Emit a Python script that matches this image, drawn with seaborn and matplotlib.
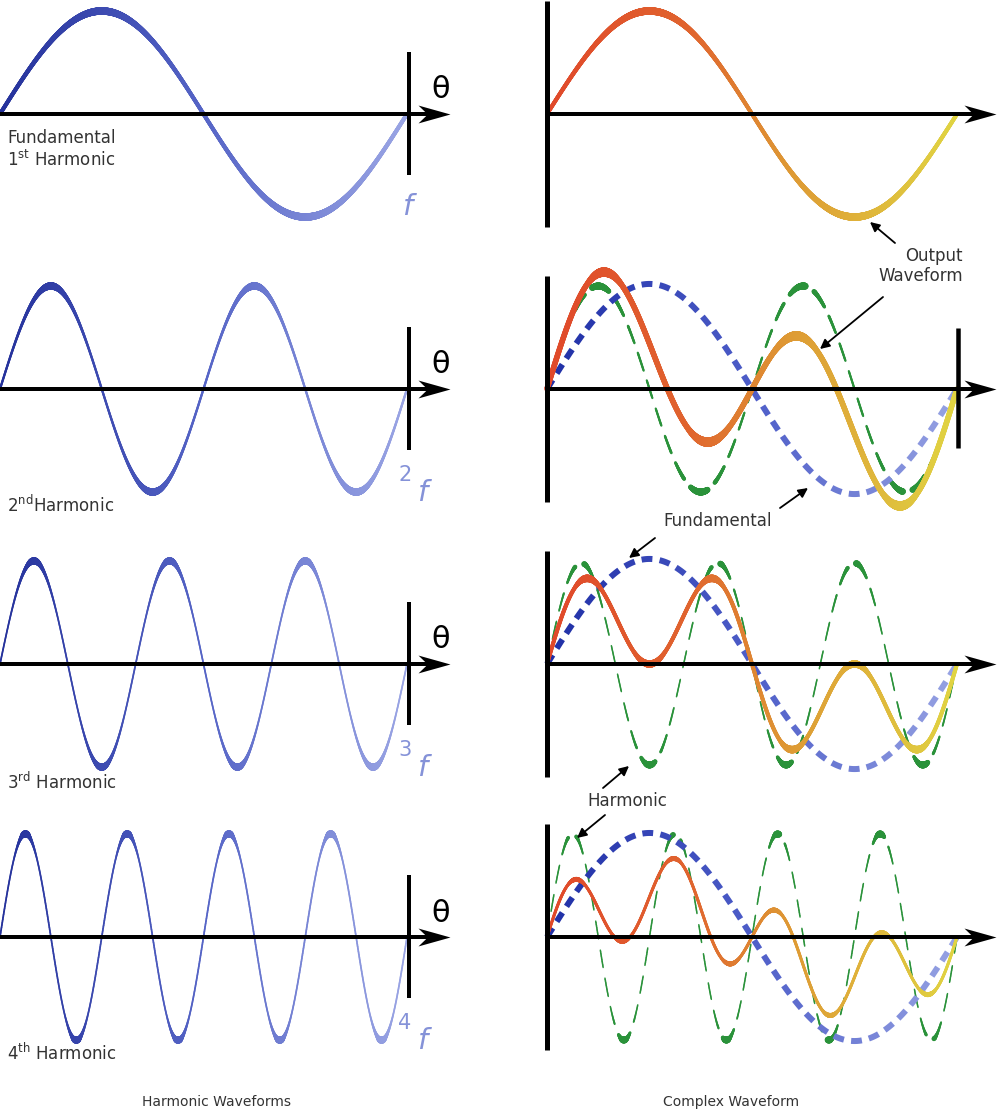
import numpy as np
import pandas as pd
import matplotlib
matplotlib.use("Agg")
import matplotlib.pyplot as plt
import seaborn as sns
from matplotlib.collections import LineCollection
from matplotlib.colors import LinearSegmentedColormap
from matplotlib.path import Path

# ------------------------------------------------------------------ data
harmonic_orders = [1, 2, 3, 4]
harmonic_amplitude = [1.0, 1.0, 1.0, 1.0]          # left column waves
fundamental_dashed_amp = [0.0, 1.02, 1.02, 1.01]   # dashed blue reference (right)
harmonic_dashed_amp = [0.0, 1.0, 0.98, 1.0]        # dashed green harmonic (right)
output_fund_coef = [1.0, 0.44, 0.54, 0.39]         # output waveform = a*fund + b*harm
output_harm_coef = [0.0, 0.81, 0.54, 0.40]
row_labels = ["Fundamental\n1$^{\\mathregular{st}}$ Harmonic",
              "2$^{\\mathregular{nd}}$Harmonic",
              "3$^{\\mathregular{rd}}$ Harmonic",
              "4$^{\\mathregular{th}}$ Harmonic"]
freq_prefix = ["", "2", "3", "4"]
column_titles = ["Harmonic Waveforms", "Complex Waveform"]

# ------------------------------------------------------------------ style
sns.set_theme(style="white")
plt.rcParams["font.family"] = ["DejaVu Sans"]
DPI = 100
W, H = 1000, 1112
fig = plt.figure(figsize=(W / DPI, H / DPI), dpi=DPI)
fig.patch.set_facecolor("white")

AMP = 103.0
ROW_YC = [114, 389, 664, 937]
LEFT = dict(x0=0.0, period=407.0, pl=0, pr=470)
RIGHT = dict(x0=547.0, period=410.0, pl=520, pr=1000)
TXT = "#333333"
BLUE_LBL = "#8592d8"

left_cmap = LinearSegmentedColormap.from_list("l", ["#24319b", "#5564c6", "#9aa5e4"])
fund_cmap = LinearSegmentedColormap.from_list("f", ["#1f2fa6", "#4d5dc8", "#97a3e3"])
out_cmap = LinearSegmentedColormap.from_list(
    "o", [(0, "#e0482a"), (0.35, "#e0642e"), (0.6, "#de9a34"), (1, "#e0d442")])
GREEN = "#2a923a"


def pt(px):
    return px * 72.0 / DPI


def make_ax(spec, yc):
    top, bot = yc - 118, yc + 160
    ax = fig.add_axes([spec["pl"] / W, 1 - bot / H,
                       (spec["pr"] - spec["pl"]) / W, (bot - top) / H])
    ax.set_xlim((spec["pl"] - spec["x0"]) / spec["period"],
                (spec["pr"] - spec["x0"]) / spec["period"])
    ax.set_ylim(-(bot - yc) / AMP, (yc - top) / AMP)
    ax.axis("off")
    return ax


def to_data(spec, yc, x, y):
    return (x - spec["x0"]) / spec["period"], (yc - y) / AMP


STEALTH = Path([(1, 0), (-1, 0.56), (-0.42, 0), (-1, -0.56), (1, 0)],
               [Path.MOVETO, Path.LINETO, Path.LINETO, Path.LINETO, Path.CLOSEPOLY])


def draw_axis_arrow(ax, spec, yc, x_start, x_tip, lw_px):
    t0, _ = to_data(spec, yc, x_start, yc)
    t1, _ = to_data(spec, yc, x_tip - 20, yc)
    tc, _ = to_data(spec, yc, x_tip - 16, yc)
    sns.lineplot(x=[t0, t1], y=[0, 0], ax=ax, color="black", linewidth=pt(lw_px),
                 solid_capstyle="butt", clip_on=False, zorder=6)
    ax.plot([tc], [0], marker=STEALTH, markersize=pt(32), color="black",
            markeredgewidth=0, clip_on=False, zorder=6)


def draw_vline(ax, spec, yc, x, y_top, y_bot, lw_px):
    t, ya = to_data(spec, yc, x, y_top)
    _, yb = to_data(spec, yc, x, y_bot)
    sns.lineplot(x=[t, t + 1e-9], y=[ya, yb], ax=ax, color="black", linewidth=pt(lw_px),
                 solid_capstyle="butt", clip_on=False, zorder=6, sort=False,
                 estimator=None)


def calli(ax, t, y, colors, H_px, min_px, zorder, mask=None):
    pts = ax.transData.transform(np.column_stack([t, y]))
    d = np.diff(pts, axis=0)
    L = np.hypot(d[:, 0], d[:, 1])
    cos = np.abs(d[:, 0]) / np.maximum(L, 1e-9)
    w = np.maximum(H_px * cos, min_px)
    segs = np.stack([np.column_stack([t[:-1], y[:-1]]),
                     np.column_stack([t[1:], y[1:]])], axis=1)
    if callable(colors):
        cols = colors(np.clip(0.5 * (t[:-1] + t[1:]), 0, 1))
    else:
        cols = [colors] * len(segs)
    cols = np.array(matplotlib.colors.to_rgba_array(cols))
    if mask is not None:
        segs, cols, w = segs[mask], cols[mask], w[mask]
    lc = LineCollection(segs, colors=cols, linewidths=pt(w), capstyle="round",
                        zorder=zorder)
    lc.set_clip_on(False)
    ax.add_collection(lc)


def arc_phase(ax, t, y, on, off, offset):
    pts = ax.transData.transform(np.column_stack([t, y]))
    s = np.concatenate([[0], np.cumsum(np.hypot(*np.diff(pts, axis=0).T))]) + offset
    return s % (on + off) < on, np.floor(s / (on + off)).astype(int)


t = np.linspace(0, 1, 1600)

for r in range(4):
    yc = ROW_YC[r]
    n = harmonic_orders[r]

    # ---------------- left: individual harmonic
    axl = make_ax(LEFT, yc)
    yl = harmonic_amplitude[r] * np.sin(2 * np.pi * n * t)
    calli(axl, t, yl, left_cmap, 7.5, 1.7, 3)
    draw_axis_arrow(axl, LEFT, yc, 0, 450, 4)
    draw_vline(axl, LEFT, yc, 409, yc - 62, yc + 61, 4)
    tx, ty = to_data(LEFT, yc, 441, yc - 24)
    axl.text(tx, ty, "θ", fontsize=22, ha="center", va="center", color="black",
             clip_on=False)
    if freq_prefix[r]:
        tx, ty = to_data(LEFT, yc, 405, yc + 86)
        axl.text(tx, ty, freq_prefix[r], fontsize=15, ha="center", va="center",
                 color=BLUE_LBL, clip_on=False)
        tx, ty = to_data(LEFT, yc, 422, yc + 104)
    else:
        tx, ty = to_data(LEFT, yc, 407, yc + 93)
    axl.text(tx, ty, "f", fontsize=21, style="italic", ha="center", va="center",
             color=BLUE_LBL, clip_on=False)
    if r == 0:
        tx, ty = to_data(LEFT, yc, 7, yc + 15)
        axl.text(tx, ty, row_labels[r], fontsize=12, ha="left", va="top",
                 color=TXT, linespacing=1.2, clip_on=False)
    else:
        label_y = [0, 505, 782, 1053][r]
        tx, ty = to_data(LEFT, yc, 7, label_y)
        axl.text(tx, ty, row_labels[r], fontsize=12, ha="left", va="center",
                 color=TXT, clip_on=False)

    # ---------------- right: complex waveform
    axr = make_ax(RIGHT, yc)
    fund = np.sin(2 * np.pi * t)
    harm = np.sin(2 * np.pi * n * t)
    if r > 0:
        yg = harmonic_dashed_amp[r] * harm
        on_g, _ = arc_phase(axr, t, yg, 19, 10, 4)
        seg_mask = on_g[:-1] & on_g[1:]
        calli(axr, t, yg, GREEN, 7, 1.5, 2, mask=seg_mask)

        yb = fundamental_dashed_amp[r] * fund
        on_b, did = arc_phase(axr, t, yb, 11, 7, 0)
        df = pd.DataFrame({"t": t[on_b], "y": yb[on_b],
                           "dash": ["d%03d" % k for k in did[on_b]]})
        pal = {k: fund_cmap(g["t"].mean()) for k, g in df.groupby("dash")}
        sns.lineplot(data=df, x="t", y="y", hue="dash", palette=pal, legend=False,
                     ax=axr, linewidth=pt(6), solid_capstyle="butt",
                     estimator=None, sort=False, zorder=3, clip_on=False)

    yo = output_fund_coef[r] * fund + output_harm_coef[r] * harm
    out_H = [7.5, 9.5, 7.5, 5][r]
    out_min = [3.8, 5.5, 4, 3][r]
    calli(axr, t, yo, out_cmap, out_H, out_min, 4)

    draw_axis_arrow(axr, RIGHT, yc, 547, 996, 4)
    draw_vline(axr, RIGHT, yc, 547, yc - 113, yc + 113, 5)
    if r == 1:
        draw_vline(axr, RIGHT, yc, 958, yc - 61, yc + 59, 4.5)

# ------------------------------------------------------------------ annotations
def ff(x, y):
    return (x / W, 1 - y / H)


def arrow(x0, y0, x1, y1):
    fig.add_artist(matplotlib.patches.FancyArrowPatch(
        ff(x0, y0), ff(x1, y1), transform=fig.transFigure, arrowstyle="-|>",
        mutation_scale=14, lw=1.3, color="black", shrinkA=0, shrinkB=0, zorder=10))


fig.text(*ff(963, 266), "Output\nWaveform", fontsize=12, ha="right", va="center",
         multialignment="right", color=TXT, linespacing=1.15)
arrow(895, 243, 870, 222)
arrow(883, 297, 820, 349)

fig.text(*ff(718, 521), "Fundamental", fontsize=12, ha="center", va="center", color=TXT)
arrow(780, 508, 808, 488)
arrow(655, 538, 629, 558)

fig.text(*ff(627, 801), "Harmonic", fontsize=12, ha="center", va="center", color=TXT)
arrow(603, 788, 629, 766)
arrow(605, 815, 577, 838)

fig.text(*ff(217, 1102), column_titles[0], fontsize=10, ha="center", va="center", color=TXT)
fig.text(*ff(731, 1102), column_titles[1], fontsize=10, ha="center", va="center", color=TXT)

fig.savefig("out.png", dpi=DPI, facecolor="white")
